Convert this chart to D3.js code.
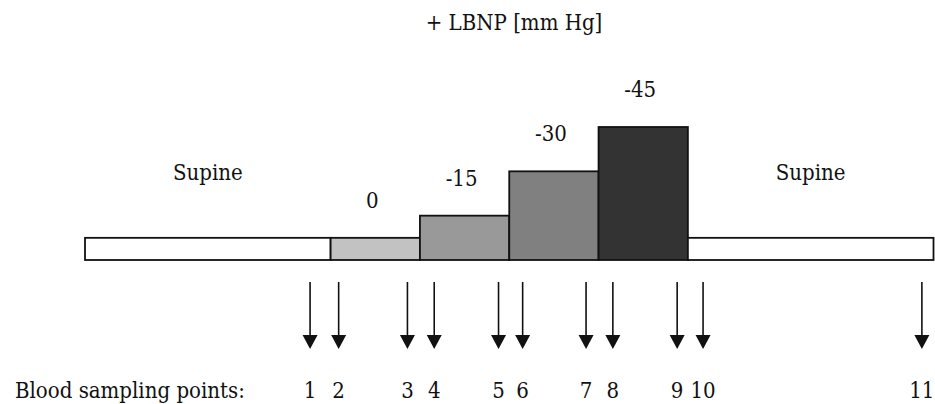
<!DOCTYPE html>
<html>
<head>
<meta charset="utf-8">
<script src="https://cdn.jsdelivr.net/npm/d3@7"></script>
<style>
  html, body { margin: 0; padding: 0; background: #fff; }
  svg { display: block; }
</style>
</head>
<body>
<svg id="chart" width="935" height="404"></svg>
<script>
// ---- data ----
const phaseLabels = ["Supine", "0", "-15", "-30", "-45", "Supine"];
const phaseStart  = [0, 27.5, 37.5, 47.5, 57.5, 67.5];
const phaseEnd    = [27.5, 37.5, 47.5, 57.5, 67.5, 95];
const phaseLevel  = [1, 1, 2, 4, 6, 1];
const samplingTimes  = [25.2, 28.4, 36.1, 39.1, 46.3, 49.0, 56.1, 59.1, 66.3, 69.2, 93.7];
const samplingLabels = ["1", "2", "3", "4", "5", "6", "7", "8", "9", "10", "11"];
const title = "+ LBNP [mm Hg]";
const samplingTitle = "Blood sampling points:";

// ---- styles ----
const FONT = "'DejaVu Serif', serif";
const fills = ["#ffffff", "#c2c2c2", "#999999", "#808080", "#333333", "#ffffff"];

const svg = d3.select("#chart");
const x = d3.scaleLinear().domain([0, 95]).range([85, 933.5]);
const y = d3.scaleLinear().domain([0, 6]).range([260, 127]);

const phases = phaseLabels.map((l, i) => ({
  label: l, start: phaseStart[i], end: phaseEnd[i], level: phaseLevel[i], fill: fills[i], supine: l === "Supine"
}));

function txt(sel) {
  return sel.style("font-family", FONT).style("font-stretch", "condensed")
    .attr("font-size", 22).attr("fill", "#111");
}

// title
svg.append("text")
  .attr("x", 514).attr("y", 30)
  .attr("text-anchor", "middle")
  .call(txt)
  .text(title);

// bars
svg.selectAll("rect.phase").data(phases).enter().append("rect")
  .attr("class", "phase")
  .attr("x", d => x(d.start))
  .attr("y", d => y(d.level))
  .attr("width", d => x(d.end) - x(d.start))
  .attr("height", d => y(0) - y(d.level))
  .attr("fill", d => d.fill)
  .attr("stroke", "#111")
  .attr("stroke-width", 1.8);

// phase labels
svg.selectAll("text.plabel").data(phases).enter().append("text")
  .attr("class", "plabel")
  .attr("x", d => (x(d.start) + x(d.end)) / 2 - (d.supine ? 0 : 3))
  .attr("y", d => d.supine ? y(d.level) - 58 : y(d.level) - 30)
  .attr("text-anchor", "middle")
  .call(txt)
  .text(d => d.label);

// arrows
const arrowTop = 282, headTop = 335, tip = 349, headHalf = 7.5;
const g = svg.selectAll("g.arrow").data(samplingTimes).enter().append("g").attr("class", "arrow");
g.append("line")
  .attr("x1", d => x(d)).attr("x2", d => x(d))
  .attr("y1", arrowTop).attr("y2", headTop + 2)
  .attr("stroke", "#111").attr("stroke-width", 1.6);
g.append("path")
  .attr("d", d => `M${x(d) - headHalf},${headTop} L${x(d) + headHalf},${headTop} L${x(d)},${tip} Z`)
  .attr("fill", "#111");

// sampling labels
svg.selectAll("text.slabel").data(samplingTimes).enter().append("text")
  .attr("class", "slabel")
  .attr("x", d => x(d))
  .attr("y", 398)
  .attr("text-anchor", "middle")
  .call(txt)
  .text((d, i) => samplingLabels[i]);

svg.append("text")
  .attr("x", 15).attr("y", 398)
  .call(txt)
  .text(samplingTitle);
</script>
</body>
</html>
